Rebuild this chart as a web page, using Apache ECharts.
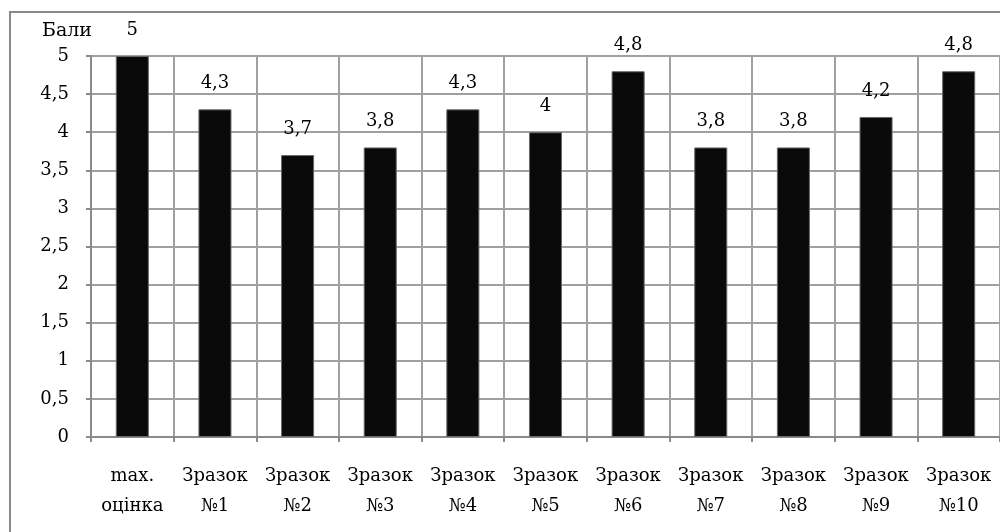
<!DOCTYPE html>
<html>
<head>
<meta charset="utf-8">
<script src="https://cdn.jsdelivr.net/npm/echarts@6/dist/echarts.min.js"></script>
<style>
html,body{margin:0;padding:0;background:#fff;}
#c{width:1000px;height:532px;}
</style>
</head>
<body>
<div id="c"></div>
<script>
var categories = ['max.\nоцінка','Зразок\n№1','Зразок\n№2','Зразок\n№3','Зразок\n№4','Зразок\n№5','Зразок\n№6','Зразок\n№7','Зразок\n№8','Зразок\n№9','Зразок\n№10'];
var values = [5, 4.3, 3.7, 3.8, 4.3, 4, 4.8, 3.8, 3.8, 4.2, 4.8];
var yTicks = [0, 0.5, 1, 1.5, 2, 2.5, 3, 3.5, 4, 4.5, 5];

var FONT = 'DejaVu Serif';
var fmt = function (v) { return String(v).replace('.', ','); };
var chart = echarts.init(document.getElementById('c'));
chart.setOption({
  animation: false,
  backgroundColor: '#fff',
  textStyle: { fontFamily: FONT },
  graphic: [
    { type: 'rect', shape: { x: 10, y: 12, width: 1100, height: 600 }, style: { fill: 'none', stroke: '#8a8a8a', lineWidth: 2 }, z: -1 },
    { type: 'text', left: 42, top: 22, style: { text: 'Бали', font: '19px "DejaVu Serif"', fill: '#000' } }
  ],
  grid: { left: 91, top: 56, width: 913, bottom: 95, containLabel: false },
  xAxis: {
    type: 'category',
    data: categories,
    axisLine: { lineStyle: { color: '#8a8a8a', width: 2 } },
    axisTick: { show: true, alignWithLabel: false, length: 5, lineStyle: { color: '#8a8a8a', width: 2 } },
    splitLine: { show: true, interval: 0, lineStyle: { color: '#a0a0a0', width: 2 } },
    axisLabel: { interval: 0, color: '#000', fontSize: 18, lineHeight: 30, margin: 24, fontFamily: FONT }
  },
  yAxis: {
    type: 'value',
    min: 0, max: 5, interval: 0.5,
    axisLine: { show: true, lineStyle: { color: '#8a8a8a', width: 2 } },
    axisTick: { show: true, length: 5, lineStyle: { color: '#8a8a8a', width: 2 } },
    splitLine: { show: true, lineStyle: { color: '#a0a0a0', width: 2 } },
    axisLabel: { color: '#000', fontSize: 18, margin: 22, fontFamily: FONT,
      formatter: function (v) { return yTicks.indexOf(v) >= 0 ? fmt(v) : ''; } }
  },
  series: [{
    type: 'bar',
    data: values,
    barWidth: '40%',
    itemStyle: { color: '#0a0a0a', borderColor: '#6a6a6a', borderWidth: 1 },
    label: { show: true, position: 'top', distance: 17, color: '#000', fontSize: 18, fontFamily: FONT,
      formatter: function (p) { return fmt(p.value); } }
  }]
});
</script>
</body>
</html>
